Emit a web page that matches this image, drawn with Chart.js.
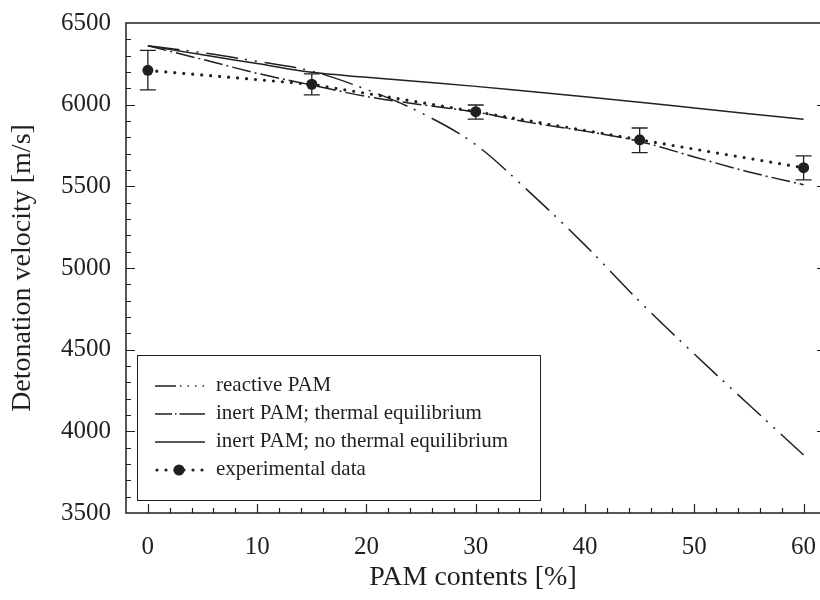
<!DOCTYPE html>
<html>
<head>
<meta charset="utf-8">
<script src="https://cdn.jsdelivr.net/npm/chart.js@4.4.1/dist/chart.umd.min.js"></script>
<style>
  html, body { margin: 0; padding: 0; background: #fff; overflow: hidden; }
  #wrap { width: 820px; height: 600px; }
</style>
</head>
<body>
<div id="wrap"><canvas id="chart" width="820" height="600"></canvas></div>
<script>
// model curves, sampled every 5 %
const pam = [0, 5, 10, 15, 20, 25, 30, 35, 40, 45, 50, 55, 60];
const reactive = [6360, 6318, 6265, 6205, 6093, 5950, 5755, 5460, 5140, 4795, 4473, 4163, 3855];
const inertEq = [6360, 6277, 6192, 6120, 6050, 6000, 5955, 5890, 5838, 5775, 5680, 5588, 5510];
const inertNoEq = [6360, 6305, 6252, 6198, 6168, 6140, 6112, 6080, 6048, 6015, 5980, 5945, 5910];

// experimental points with error bars
const expPam = [0, 15, 30, 45, 60];
const expVel = [6210, 6125, 5957, 5785, 5614];
const expLow = [6090, 6060, 5912, 5706, 5539];
const expHigh = [6332, 6188, 5998, 5857, 5686];

const xTicks = [0, 10, 20, 30, 40, 50, 60];
const yTicks = [3500, 4000, 4500, 5000, 5500, 6000, 6500];

const legendLabels = ['reactive PAM', 'inert PAM; thermal equilibrium', 'inert PAM; no thermal equilibrium', 'experimental data'];

const ink = '#231f20';
const serif = '"Liberation Serif", "Times New Roman", serif';

const toXY = (xs, ys) => xs.map((x, i) => ({x: x, y: ys[i]}));

const dashReactive = [32, 7, 2, 8, 2, 8];
const dashEq = [19, 4, 2, 4];
const dashDots = [0, 9];

// error bars, axis frame, minor ticks and legend box
const decorations = {
    id: 'decorations',
    afterDatasetsDraw(chart) {
        const ctx = chart.ctx;
        const xs = chart.scales.x, ys = chart.scales.y;
        const a = chart.chartArea;
        ctx.save();
        ctx.strokeStyle = ink;
        ctx.lineWidth = 1.3;
        ctx.setLineDash([]);
        expPam.forEach((p, i) => {
            const px = xs.getPixelForValue(p);
            const top = ys.getPixelForValue(expHigh[i]);
            const bot = ys.getPixelForValue(expLow[i]);
            ctx.beginPath();
            ctx.moveTo(px, top); ctx.lineTo(px, bot);
            ctx.moveTo(px - 8, top); ctx.lineTo(px + 8, top);
            ctx.moveTo(px - 8, bot); ctx.lineTo(px + 8, bot);
            ctx.stroke();
        });

        // frame
        ctx.lineWidth = 1.5;
        ctx.beginPath();
        ctx.moveTo(a.right, a.top); ctx.lineTo(a.left, a.top);
        ctx.lineTo(a.left, a.bottom); ctx.lineTo(a.right, a.bottom);
        ctx.stroke();

        // ticks, pointing inward
        ctx.lineWidth = 1.2;
        ctx.beginPath();
        for (let v = 0; v <= 60; v += 2) {
            const px = Math.round(xs.getPixelForValue(v)) + 0.5;
            const len = v % 10 === 0 ? 9 : 5;
            ctx.moveTo(px, a.bottom); ctx.lineTo(px, a.bottom - len);
        }
        for (let v = 3600; v < 6500; v += 100) {
            const py = Math.round(ys.getPixelForValue(v)) + 0.5;
            const len = v % 500 === 0 ? 9 : 5;
            ctx.moveTo(a.left, py); ctx.lineTo(a.left + len, py);
            if (v % 500 === 0) {
                ctx.moveTo(a.right, py); ctx.lineTo(a.right - 3, py);
            }
        }
        ctx.stroke();

        // legend
        const box = {l: 137.5, t: 355.5, r: 540.5, b: 500.5};
        ctx.fillStyle = '#fff';
        ctx.fillRect(box.l, box.t, box.r - box.l, box.b - box.t);
        ctx.lineWidth = 1;
        ctx.strokeRect(box.l, box.t, box.r - box.l, box.b - box.t);

        const rows = [386, 414, 442, 470];
        const dashes = [
            [21, 4, 1.5, 6, 1.5, 6, 1.5, 6, 1.5, 20],
            [17, 3, 1.5, 3, 30],
            [],
            dashDots
        ];
        const x0 = 155, x1 = 205;
        rows.forEach((y, i) => {
            ctx.beginPath();
            ctx.setLineDash(dashes[i]);
            ctx.lineWidth = i === 3 ? 3.2 : 1.5;
            ctx.lineCap = i === 3 ? 'round' : 'butt';
            ctx.moveTo(i === 3 ? 157 : x0, y); ctx.lineTo(x1, y);
            ctx.stroke();
        });
        ctx.setLineDash([]);
        ctx.fillStyle = ink;
        ctx.beginPath();
        ctx.arc(179, rows[3], 5.5, 0, Math.PI * 2);
        ctx.fill();

        ctx.font = '21px ' + serif;
        ctx.textBaseline = 'middle';
        ctx.textAlign = 'left';
        legendLabels.forEach((t, i) => ctx.fillText(t, 216, rows[i] - 1));
        ctx.restore();
    }
};

const noPad = (scale) => { scale.paddingLeft = 0; scale.paddingRight = 0; };

const ctx = document.getElementById('chart').getContext('2d');
new Chart(ctx, {
    type: 'line',
    data: {
        datasets: [{
            label: legendLabels[0],
            data: toXY(pam, reactive),
            borderColor: ink,
            borderWidth: 1.5,
            borderDash: dashReactive,
            pointRadius: 0,
            cubicInterpolationMode: 'monotone'
        }, {
            label: legendLabels[1],
            data: toXY(pam, inertEq),
            borderColor: ink,
            borderWidth: 1.5,
            borderDash: dashEq,
            pointRadius: 0,
            cubicInterpolationMode: 'monotone'
        }, {
            label: legendLabels[2],
            data: toXY(pam, inertNoEq),
            borderColor: ink,
            borderWidth: 1.5,
            pointRadius: 0,
            cubicInterpolationMode: 'monotone'
        }, {
            label: legendLabels[3],
            data: toXY(expPam, expVel),
            borderColor: ink,
            borderWidth: 3.2,
            borderDash: dashDots,
            borderCapStyle: 'round',
            pointRadius: 5.5,
            pointBackgroundColor: ink,
            pointBorderWidth: 0,
            tension: 0
        }]
    },
    options: {
        responsive: false,
        animation: false,
        layout: { autoPadding: false, padding: { top: 23, right: 0, left: 0, bottom: 0 } },
        plugins: {
            legend: { display: false },
            tooltip: { enabled: false }
        },
        scales: {
            x: {
                type: 'linear',
                min: -2,
                max: 61.5,
                afterFit(scale) { scale.height = 87; noPad(scale); },
                afterBuildTicks(scale) { scale.ticks = xTicks.map(v => ({value: v})); },
                grid: { display: false },
                border: { display: false },
                ticks: {
                    color: ink,
                    padding: 11,
                    maxRotation: 0,
                    font: { family: serif, size: 25 },
                    callback: (v) => String(v)
                },
                title: {
                    display: true,
                    text: 'PAM contents [%]',
                    color: ink,
                    padding: { top: 0, bottom: 6 },
                    font: { family: serif, size: 28 }
                }
            },
            y: {
                min: 3500,
                max: 6500,
                afterFit(scale) { scale.width = 126; },
                afterBuildTicks(scale) { scale.ticks = yTicks.map(v => ({value: v})); },
                grid: { display: false },
                border: { display: false },
                ticks: {
                    color: ink,
                    padding: 7,
                    font: { family: serif, size: 25 },
                    callback: (v) => String(v)
                },
                title: {
                    display: true,
                    text: 'Detonation velocity [m/s]',
                    color: ink,
                    padding: { top: 6, bottom: 0 },
                    font: { family: serif, size: 28 }
                }
            }
        }
    },
    plugins: [decorations]
});
</script>
</body>
</html>
